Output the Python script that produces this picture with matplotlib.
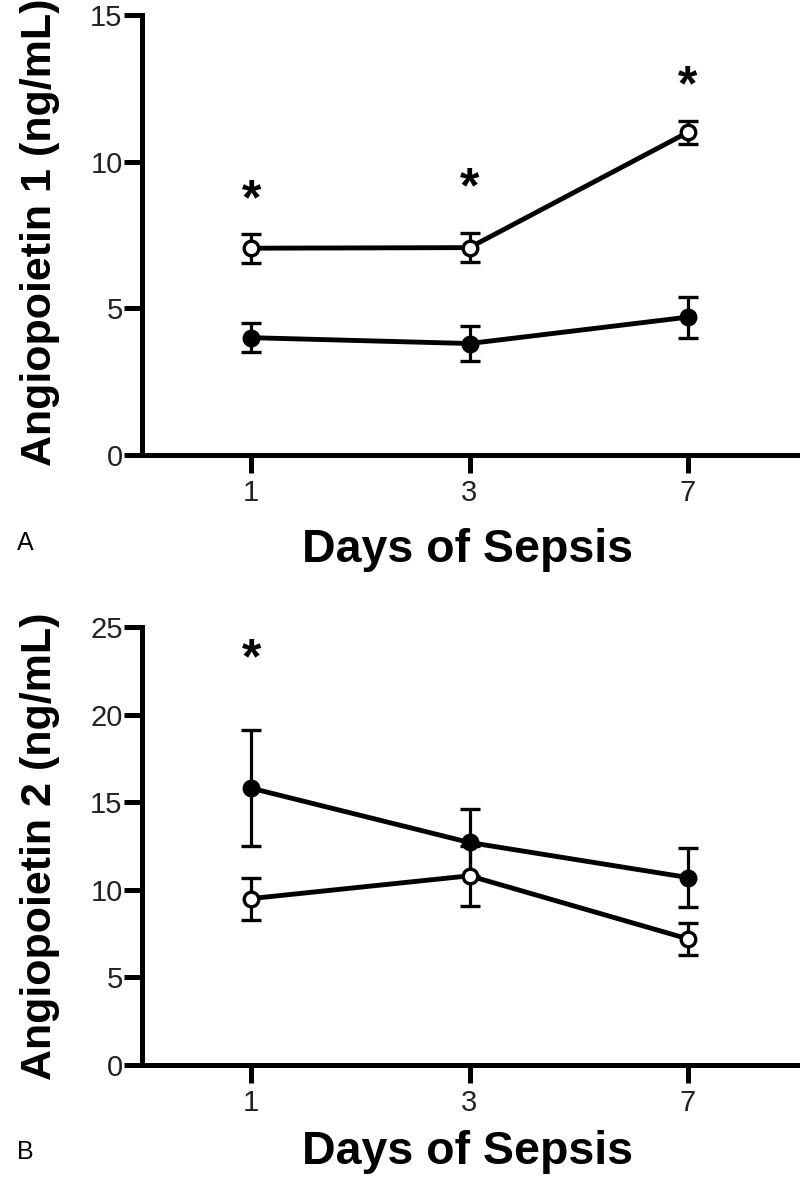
import matplotlib
matplotlib.use("Agg")
import matplotlib.pyplot as plt
import numpy as np

plt.rcParams['font.family'] = ['Liberation Sans', 'DejaVu Sans']

days = ['1', '3', '7']

# Panel A: Angiopoietin 1
ang1_open = [7.05, 7.07, 11.0]
ang1_open_err = [0.5, 0.5, 0.4]
ang1_filled = [4.0, 3.8, 4.7]
ang1_filled_err = [0.5, 0.6, 0.7]
ang1_star_idx = [0, 1, 2]
ang1_star_y = [9.0, 9.4, 12.9]
ang1_yticks = [0, 5, 10, 15]

# Panel B: Angiopoietin 2
ang2_filled = [15.8, 12.7, 10.7]
ang2_filled_err = [3.3, 1.9, 1.7]
ang2_open = [9.5, 10.8, 7.2]
ang2_open_err = [1.2, 1.7, 0.9]
ang2_star_idx = [0]
ang2_star_y = [23.7]
ang2_yticks = [0, 5, 10, 15, 20, 25]

W, H = 800, 1189
fig = plt.figure(figsize=(W / 100, H / 100), dpi=100)

def axes_rect(left_px, right_px, top_px, bottom_px):
    return [left_px / W, 1 - bottom_px / H, (right_px - left_px) / W, (bottom_px - top_px) / H]

axA = fig.add_axes(axes_rect(142, 797, 15, 455))
axB = fig.add_axes(axes_rect(142, 797, 627, 1065))

def style(ax, yticks):
    x = np.arange(len(days))
    ax.set_xlim(-0.5, 2.5)
    ax.set_ylim(yticks[0], yticks[-1])
    ax.set_yticks(yticks)
    ax.set_xticks(x)
    ax.set_xticklabels(days)
    for s in ['top', 'right']:
        ax.spines[s].set_visible(False)
    for s in ['left', 'bottom']:
        ax.spines[s].set_linewidth(3.6)
        ax.spines[s].set_capstyle('projecting')
    ax.tick_params(axis='both', length=13, width=3.6, labelsize=21,
                   direction='out', pad=1, labelcolor='#222222')
    ax.tick_params(axis='x', pad=4)

def series(ax, y, err, filled):
    x = np.arange(len(days))
    ax.errorbar(x, y, yerr=err, color='black', lw=3.5, elinewidth=2.3,
                capsize=7.5, capthick=2.5, marker='o', markersize=10.5,
                markeredgewidth=2.4,
                markerfacecolor='black' if filled else 'white',
                markeredgecolor='black', zorder=3 if filled else 4,
                clip_on=False)

def stars(ax, idx, ys):
    for i, yv in zip(idx, ys):
        ax.text(i, yv, '*', ha='center', va='center', fontsize=36,
                fontweight='bold', color='black')

style(axA, ang1_yticks)
series(axA, ang1_filled, ang1_filled_err, True)
series(axA, ang1_open, ang1_open_err, False)
stars(axA, ang1_star_idx, [v - 0.35 for v in ang1_star_y])

style(axB, ang2_yticks)
series(axB, ang2_filled, ang2_filled_err, True)
series(axB, ang2_open, ang2_open_err, False)
stars(axB, ang2_star_idx, [v - 0.6 for v in ang2_star_y])

# Axis labels
fig.text(40 / W, 1 - 232 / H, 'Angiopoietin 1 (ng/mL)', rotation=90,
         ha='center', va='center', fontsize=31, fontweight='bold')
fig.text(40 / W, 1 - 846 / H, 'Angiopoietin 2 (ng/mL)', rotation=90,
         ha='center', va='center', fontsize=31, fontweight='bold')
fig.text(468 / W, 1 - 550 / H, 'Days of Sepsis', ha='center', va='center',
         fontsize=33.5, fontweight='bold')
fig.text(468 / W, 1 - 1152 / H, 'Days of Sepsis', ha='center', va='center',
         fontsize=33.5, fontweight='bold')
fig.text(25 / W, 1 - 543 / H, 'A', ha='center', va='center', fontsize=18)
fig.text(25 / W, 1 - 1152 / H, 'B', ha='center', va='center', fontsize=18)

fig.savefig('out.png', dpi=100)
